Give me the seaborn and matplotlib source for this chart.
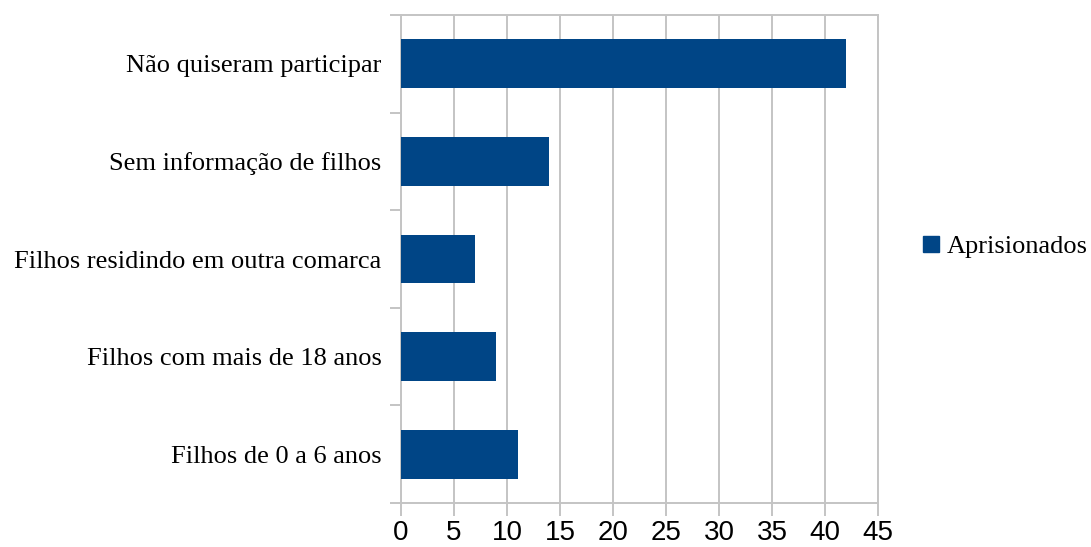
import matplotlib
matplotlib.use('Agg')
import matplotlib.pyplot as plt
import seaborn as sns
from matplotlib.lines import Line2D

categorias = ['Não quiseram participar', 'Sem informação de filhos',
              'Filhos residindo em outra comarca', 'Filhos com mais de 18 anos',
              'Filhos de 0 a 6 anos']
aprisionados = [42, 14, 7, 9, 11]
serie = 'Aprisionados'
xticks = [0, 5, 10, 15, 20, 25, 30, 35, 40, 45]

sns.set_style('white')
plt.rcParams['font.family'] = ['Liberation Serif', 'DejaVu Serif']
plt.rcParams['text.color'] = 'black'
plt.rcParams['xtick.color'] = 'black'
plt.rcParams['ytick.color'] = 'black'

cor = '#004586'
cinza = '#c4c4c4'

fig = plt.figure(figsize=(10.91, 5.47), dpi=100)
ax = fig.add_axes([401 / 1091, 1 - 503 / 547, 477 / 1091, 488 / 547])

sns.barplot(x=aprisionados, y=categorias, color=cor, width=0.5, saturation=1,
            orient='h', ax=ax, zorder=3, linewidth=0)

ax.set_xlim(0, 45)
ax.set_ylim(4.5, -0.5)
ax.set_xticks(xticks)
ax.set_xticklabels([str(t) for t in xticks], family='Liberation Sans', fontsize=20)
ax.grid(axis='x', color=cinza, linewidth=1.4, zorder=0)
ax.grid(axis='y', visible=False)

# marcas de divisa entre categorias
ax.set_yticks([i - 0.5 for i in range(len(categorias) + 1)])
ax.set_yticklabels([''] * (len(categorias) + 1))
ax.set_yticks(range(len(categorias)), minor=True)
ax.set_yticklabels(categorias, minor=True, fontsize=19)
ax.tick_params(axis='y', which='minor', left=False, length=0, pad=14)
ax.tick_params(axis='y', which='major', left=True, length=8, width=1.4,
               color=cinza, direction='out')
ax.tick_params(axis='x', bottom=True, length=9, width=1.4, color=cinza,
               direction='out', pad=3)

for s in ['left', 'bottom', 'top', 'right']:
    ax.spines[s].set_visible(True)
    ax.spines[s].set_color(cinza)
    ax.spines[s].set_linewidth(1.4)

ax.set_xlabel('')
ax.set_ylabel('')

handle = Line2D([], [], marker='s', color=cor, linestyle='none', markersize=11)
fig.legend([handle], [serie], loc='center left', bbox_to_anchor=(0.822, 0.55),
           frameon=False, fontsize=19, handletextpad=0.2, handlelength=0.8)

fig.savefig('out.png', dpi=100)
